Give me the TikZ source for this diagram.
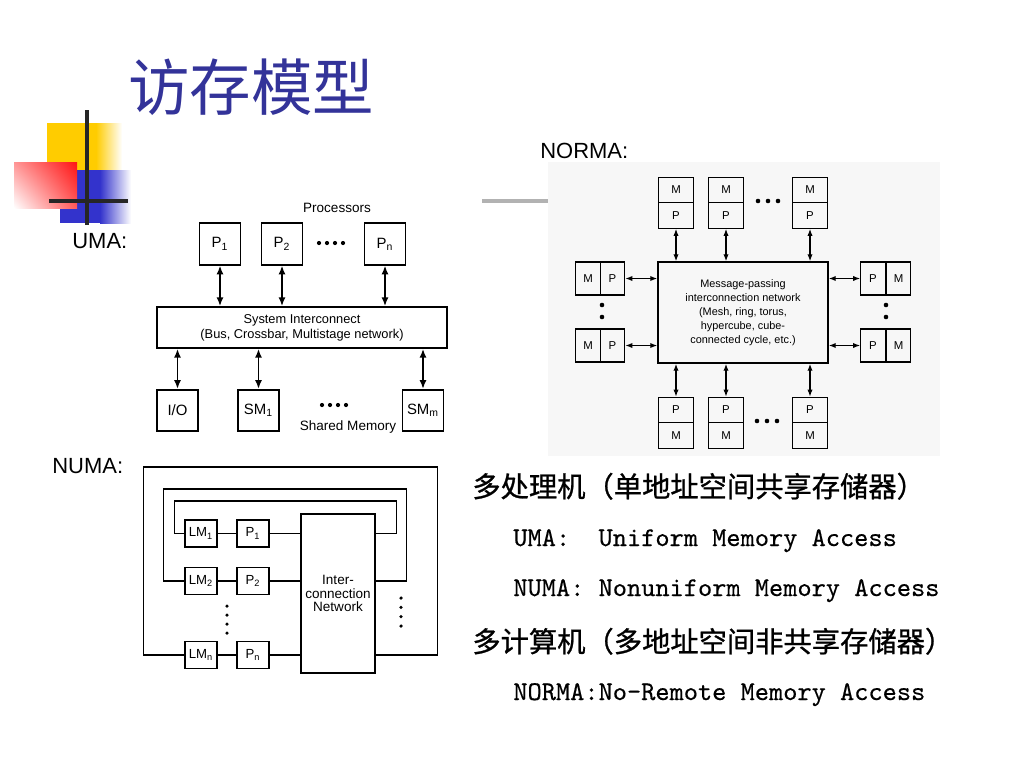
\documentclass[tikz,border=0pt]{standalone}
\usepackage{fontspec}
\setmainfont{Liberation Sans}
\setmonofont{lmmono10-regular.otf}[FakeBold=0.4]
\newfontfamily\cjk{Noto Sans CJK SC}
\newfontfamily\cjkheavy{Noto Sans CJK SC}[FakeBold=0.9]
\usetikzlibrary{arrows.meta,shadings}
\definecolor{titleblue}{RGB}{51,51,153}
\definecolor{decoyellow}{RGB}{255,204,0}
\definecolor{decoblue}{RGB}{51,51,204}
\definecolor{decored}{RGB}{255,20,20}
\begin{document}
\begin{tikzpicture}[x=0.02cm,y=-0.02cm,
  umabox/.style={draw,line width=1pt,minimum width=0.82cm,minimum height=0.83cm,inner sep=0pt,font=\fontsize{8.5}{10}\selectfont},
  mcell/.style={draw,line width=0.7pt,minimum width=0.7cm,minimum height=0.51cm,inner sep=0pt,font=\fontsize{6.5}{7}\selectfont},
  scell/.style={mcell,minimum width=0.49cm,minimum height=0.66cm},
  lmbox/.style={draw,line width=0.8pt,minimum width=0.64cm,minimum height=0.54cm,inner sep=0pt,font=\fontsize{7.5}{8}\selectfont},
  nline/.style={line width=0.8pt},
  biarr/.style={{Latex[length=5pt,width=4pt]}-{Latex[length=5pt,width=4pt]},line width=0.9pt},
  biarrs/.style={{Latex[length=4pt,width=3pt]}-{Latex[length=4pt,width=3pt]},line width=0.7pt},
  slidelabel/.style={anchor=base west,inner sep=0pt,font=\fontsize{12.5}{14}\selectfont},
  cjkline/.style={anchor=base west,inner sep=0pt,font=\cjkheavy\fontsize{16.1}{18}\selectfont},
  ttline/.style={anchor=base west,inner sep=0pt,font=\ttfamily\fontsize{15.4}{18}\selectfont}]
\useasboundingbox (0,0) rectangle (1024,768);
\fill[white] (0,0) rectangle (1024,768);
% slide decoration
\fill[decoyellow] (47,123) rectangle (96,172);
\shade[left color=decoyellow,right color=white] (96,123) rectangle (122,172);
\fill[decoblue] (60,170) rectangle (100,223);
\shade[left color=decoblue,right color=white] (100,170) rectangle (131,223);
\shade[upper left=decored!45,upper right=decored,lower left=white,lower right=decored!70] (14,162) rectangle (77,208);
\draw[line width=2.6pt,black!85] (87,110) -- (87,225);
\draw[line width=2.6pt,black!85] (49,201) -- (128,201);
\draw[line width=2.8pt,black!30] (482,201) -- (548,201);
\node[anchor=base west,inner sep=0pt,text=titleblue,font=\cjk\fontsize{35}{40}\selectfont] (title) at (128,110) {访存模型};
\node[slidelabel] (umalbl) at (72,248) {UMA:};
\node[slidelabel] (numalbl) at (52,473) {NUMA:};
% UMA
\node[font=\fontsize{7.7}{9}\selectfont] (proclbl) at (337,208) {Processors};
\node[umabox] (p1) at (220,244) {P\textsubscript{1}};
\node[umabox] (p2) at (282,244) {P\textsubscript{2}};
\node[umabox] (pn) at (385,244) {P\textsubscript{n}};
\foreach \x in {319,327,335,343} \fill (\x,243) circle (1.2pt);
\node[draw,line width=1pt,minimum width=5.8cm,minimum height=0.82cm,align=center,inner sep=0pt,font=\fontsize{7.3}{8.5}\selectfont] (sic) at (302,327.5) {System Interconnect\\(Bus, Crossbar, Multistage network)};
\node[umabox] (io) at (177.5,410.5) {I/O};
\node[umabox] (sm1) at (258.5,410.5) {SM\textsubscript{1}};
\node[umabox] (smm) at (423,410.5) {SM\textsubscript{m}};
\foreach \x in {322,330,338,346} \fill (\x,405) circle (1.2pt);
\node[font=\fontsize{7.7}{9}\selectfont] (smlbl) at (348,427) {Shared Memory};
\foreach \n in {p1,p2,pn} \draw[biarr] (\n.south) -- (\n.south |- sic.north);
\foreach \n in {io,sm1,smm} \draw[biarr] (\n.north |- sic.south) -- (\n.north);
% NORMA
\fill[black!3] (548,162) rectangle (940,456);
\node[slidelabel] (normalbl) at (540,158) {NORMA:};
\node[draw,line width=0.8pt,minimum width=3.4cm,minimum height=2.02cm,align=center,inner sep=0pt,font=\fontsize{6.2}{7.9}\selectfont] (net) at (743,312.5) {Message-passing\\interconnection network\\(Mesh, ring, torus,\\hypercube, cube-\\connected cycle, etc.)};
\foreach \x/\i in {676/1,726/2,810/3} {
  \node[mcell] (tm\i) at (\x,190) {M};
  \node[mcell] (tp\i) at (\x,215.5) {P};
  \draw[biarrs] (tp\i.south) -- (tp\i.south |- net.north);
  \node[mcell] (bp\i) at (\x,410) {P};
  \node[mcell] (bm\i) at (\x,435.5) {M};
  \draw[biarrs] (bp\i.north |- net.south) -- (bp\i.north);
}
\foreach \y/\i in {278.5/1,345.5/2} {
  \node[scell] (lm\i) at (588,\y) {M};
  \node[scell] (lp\i) at (612.5,\y) {P};
  \draw[biarrs] (lp\i.east) -- (lp\i.east -| net.west);
  \node[scell] (rp\i) at (873,\y) {P};
  \node[scell] (rm\i) at (898.5,\y) {M};
  \draw[biarrs] (rp\i.west -| net.east) -- (rp\i.west);
}
\foreach \x in {758,768,778} \fill (\x,201) circle (1.3pt);
\foreach \x in {757,767,777} \fill (\x,421) circle (1.3pt);
\foreach \y in {305,317} {\fill (602,\y) circle (1.3pt); \fill (886,\y) circle (1.3pt);}
% NUMA
\node[draw,line width=0.8pt,minimum width=1.48cm,minimum height=3.18cm,align=center,inner sep=0pt,font=\fontsize{7.7}{7.9}\selectfont] (inet) at (338,593.5) {Inter-\\connection\\Network};
\foreach \r/\y in {1/533.5,2/581,n/655} {
  \node[lmbox] (lmem\r) at (201,\y) {LM\textsubscript{\r}};
  \node[lmbox] (nproc\r) at (253,\y) {P\textsubscript{\r}};
  \draw[nline] (lmem\r) -- (nproc\r);
  \draw[nline] (nproc\r) -- (nproc\r -| inet.west);
}
\draw[nline] (lmem1.west) -| ++(-10,-32.5) -| ([xshift=0.42cm]inet.east |- lmem1.west) -- (inet.east |- lmem1.west);
\draw[nline] (lmem2.west) -| ++(-21,-92) -| ([xshift=0.62cm]inet.east |- lmem2.west) -- (inet.east |- lmem2.west);
\draw[nline] (lmemn.west) -| ++(-41,-188) -| ([xshift=1.24cm]inet.east |- lmemn.west) -- (inet.east |- lmemn.west);
\foreach \y in {606,615,624,633} \fill (227,\y) circle (1pt);
\foreach \y in {598,607.3,616.6,626} \fill (401,\y) circle (1pt);
% text
\node[cjkline] (mp) at (472,497) {多处理机（单地址空间共享存储器）};
\node[ttline] (uma) at (513,546) {UMA:\ \ Uniform Memory Access};
\node[ttline] (numa) at (513,596) {NUMA: Nonuniform Memory Access};
\node[cjkline] (mc) at (472,652) {多计算机（多地址空间非共享存储器）};
\node[ttline] (norma) at (513,700) {NORMA:No-Remote Memory Access};
\end{tikzpicture}
\end{document}
